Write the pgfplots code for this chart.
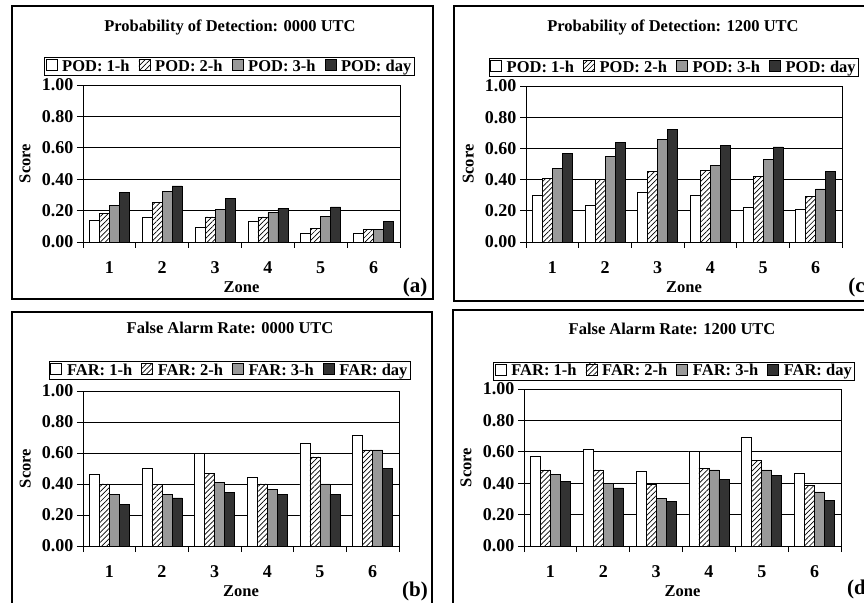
\documentclass[border=0pt]{standalone}
\usepackage{fontspec}
\setmainfont{Liberation Serif}
\usepackage{pgfplots}
\pgfplotsset{compat=1.18}
\usetikzlibrary{patterns.meta}

\definecolor{bargray}{HTML}{999999}
\definecolor{bardark}{HTML}{333333}

\newcommand{\tfont}{\bfseries\fontsize{16.5}{18}\selectfont}
\newcommand{\kfont}{\bfseries\fontsize{18}{20}\selectfont}
\newcommand{\pfont}{\bfseries\fontsize{21}{23}\selectfont}

\pgfplotsset{
  panel/.style={
    ybar=0pt, bar width=10pt,
    scale only axis, width=317pt, height=157pt,
    anchor=south west,
    xmin=0.5, xmax=6.5, ymin=0, ymax=1,
    xtick={1,2,3,4,5,6},
    minor xtick={0.5,1.5,2.5,3.5,4.5,5.5,6.5},
    ytick={0,0.2,0.4,0.6,0.8,1},
    xtick pos=left, ytick pos=left,
    tick align=outside,
    major tick length=6pt, minor tick length=6pt,
    major x tick style={draw=none},
    tick style={black, line width=0.7pt},
    ymajorgrids, grid style={black, line width=0.7pt},
    axis line style={black, line width=0.8pt},
    yticklabel style={/pgf/number format/.cd, fixed, fixed zerofill, precision=2, assume math mode=true},
    xticklabel style={/pgf/number format/assume math mode=true, yshift=-10pt},
    ticklabel style={font=\kfont},
    label style={font=\tfont},
    xlabel={Zone}, ylabel={Score},
    ylabel style={at={(axis description cs:-0.183,0.5)}, anchor=center},
    legend columns=4,
    legend style={draw=black, line width=0.8pt, font=\tfont, anchor=center,
      inner sep=1pt, nodes={inner ysep=1.5pt},
      /tikz/every odd column/.append style={column sep=3pt},
      /tikz/every even column/.append style={column sep=7pt}},
    legend image code/.code={\draw[##1,draw=black,line width=0.6pt] (0pt,-4pt) rectangle (11pt,7pt);},
  },
  s1/.style={fill=white, draw=black, line width=0.6pt},
  s2/.style={fill=white, draw=black, line width=0.6pt,
    postaction={pattern={Lines[angle=45,distance=3.6pt,line width=0.7pt]}}},
  s3/.style={fill=bargray, draw=black, line width=0.6pt},
  s4/.style={fill=bardark, draw=black, line width=0.6pt},
}

\begin{document}
\begin{tikzpicture}
\useasboundingbox (0pt,0pt) rectangle (864pt,602pt);

% (a)
\begin{axis}[panel, at={(83pt,360pt)},
  xlabel style={at={(axis description cs:0.5,-0.29)}, anchor=center},
  legend style={at={(axis description cs:0.462,1.118)}}]
\addplot[s1] coordinates {(1,0.138) (2,0.160) (3,0.096) (4,0.134) (5,0.053) (6,0.053)};
\addplot[s2] coordinates {(1,0.180) (2,0.250) (3,0.160) (4,0.160) (5,0.085) (6,0.081)};
\addplot[s3] coordinates {(1,0.234) (2,0.320) (3,0.210) (4,0.187) (5,0.164) (6,0.081)};
\addplot[s4] coordinates {(1,0.315) (2,0.357) (3,0.277) (4,0.213) (5,0.223) (6,0.132)};
\legend{POD: 1-h, POD: 2-h, POD: 3-h, POD: day}
\end{axis}

% (c)
\begin{axis}[panel, at={(526pt,360pt)}, width=316pt, height=156pt,
  xlabel style={at={(axis description cs:0.5,-0.29)}, anchor=center},
  legend style={at={(axis description cs:0.468,1.12)}}]
\addplot[s1] coordinates {(1,0.298) (2,0.235) (3,0.320) (4,0.300) (5,0.220) (6,0.210)};
\addplot[s2] coordinates {(1,0.410) (2,0.400) (3,0.455) (4,0.460) (5,0.420) (6,0.290)};
\addplot[s3] coordinates {(1,0.470) (2,0.550) (3,0.660) (4,0.490) (5,0.530) (6,0.340)};
\addplot[s4] coordinates {(1,0.567) (2,0.640) (3,0.722) (4,0.620) (5,0.610) (6,0.450)};
\legend{POD: 1-h, POD: 2-h, POD: 3-h, POD: day}
\end{axis}

% (b)
\begin{axis}[panel, at={(83pt,56pt)}, width=316pt, height=155pt,
  xlabel style={at={(axis description cs:0.5,-0.29)}, anchor=center},
  legend style={at={(axis description cs:0.465,1.132)}}]
\addplot[s1] coordinates {(1,0.464) (2,0.500) (3,0.600) (4,0.445) (5,0.665) (6,0.715)};
\addplot[s2] coordinates {(1,0.400) (2,0.395) (3,0.470) (4,0.400) (5,0.575) (6,0.620)};
\addplot[s3] coordinates {(1,0.335) (2,0.335) (3,0.410) (4,0.365) (5,0.400) (6,0.620)};
\addplot[s4] coordinates {(1,0.270) (2,0.310) (3,0.345) (4,0.335) (5,0.335) (6,0.500)};
\legend{FAR: 1-h, FAR: 2-h, FAR: 3-h, FAR: day}
\end{axis}

% (d)
\begin{axis}[panel, at={(524pt,56pt)}, width=317pt, height=157pt,
  xlabel style={at={(axis description cs:0.5,-0.29)}, anchor=center},
  legend style={at={(axis description cs:0.474,1.115)}}]
\addplot[s1] coordinates {(1,0.570) (2,0.615) (3,0.475) (4,0.605) (5,0.690) (6,0.465)};
\addplot[s2] coordinates {(1,0.485) (2,0.485) (3,0.390) (4,0.495) (5,0.545) (6,0.385)};
\addplot[s3] coordinates {(1,0.455) (2,0.400) (3,0.305) (4,0.485) (5,0.485) (6,0.345)};
\addplot[s4] coordinates {(1,0.410) (2,0.370) (3,0.285) (4,0.425) (5,0.450) (6,0.290)};
\legend{FAR: 1-h, FAR: 2-h, FAR: 3-h, FAR: day}
\end{axis}

% titles
\node[font=\tfont] at (230pt,575pt) {Probability of Detection: 0000 UTC};
\node[font=\tfont] at (673pt,575pt) {Probability of Detection: 1200 UTC};
\node[font=\tfont] at (230pt,274pt) {False Alarm Rate: 0000 UTC};
\node[font=\tfont] at (672pt,273pt) {False Alarm Rate: 1200 UTC};

% panel letters
\node[font=\pfont] at (415pt,315pt) {(a)};
\node[font=\pfont] at (860pt,315pt) {(c)};
\node[font=\pfont] at (415pt,11pt) {(b)};
\node[font=\pfont] at (860pt,13pt) {(d)};

% frames
\draw[line width=1.8pt, black] (12pt,303pt) rectangle (433pt,596pt);
\draw[line width=1.8pt, black] (454pt,301pt) rectangle (890pt,596pt);
\draw[line width=1.8pt, black] (12pt,-20pt) rectangle (432pt,290pt);
\draw[line width=1.8pt, black] (453pt,-20pt) rectangle (890pt,292pt);
\end{tikzpicture}
\end{document}
